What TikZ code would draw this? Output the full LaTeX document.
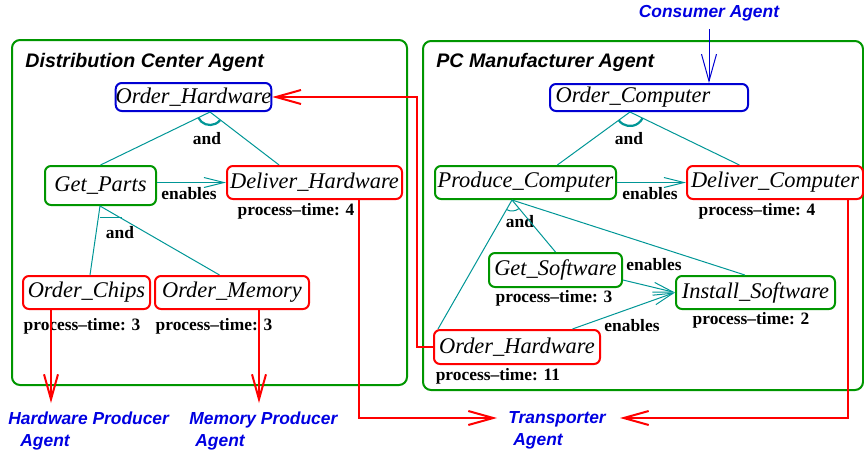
\documentclass[tikz,border=0pt]{standalone}
\usepackage{fontspec}
\setmainfont{Liberation Serif}
\setsansfont{Liberation Sans}
\usetikzlibrary{arrows.meta,calc}

\definecolor{frameGreen}{RGB}{0,150,0}
\definecolor{linkTeal}{RGB}{0,150,150}
\definecolor{goalBlue}{RGB}{0,0,210}
\definecolor{agentBlue}{RGB}{0,0,225}

\begin{document}
\begin{tikzpicture}[x=0.5pt,y=0.5pt,
		task/.style={draw,rounded corners=3pt,line width=1pt,inner sep=0pt,font=\fontsize{11.2}{13}\selectfont\itshape},
		goal/.style={task,draw=goalBlue},
		leaf/.style={task,draw=red},
		sub/.style={task,draw=frameGreen},
		note/.style={inner sep=0pt,font=\fontsize{8.7}{10}\selectfont\bfseries},
		agent/.style={inner sep=0pt,align=left,text=agentBlue,font=\fontsize{8.7}{11}\selectfont\sffamily\bfseries\itshape},
		title/.style={inner sep=0pt,font=\fontsize{9.8}{12}\selectfont\sffamily\bfseries\itshape},
		frame/.style={draw=frameGreen,line width=1pt,rounded corners=4pt},
		rel/.style={draw=linkTeal,line width=0.5pt},
		enab/.style={rel,-{Straight Barb[length=10pt,width=5pt]}},
		andarc/.style={draw=linkTeal,line width=1.1pt},
		msg/.style={draw=red,line width=1pt,-{Straight Barb[length=12.5pt,width=7pt]}},
		call/.style={draw=goalBlue,line width=0.5pt,-{Straight Barb[length=13.5pt,width=7.5pt]}}]
	\useasboundingbox (0,0) rectangle (864,-456);
	% agents
	\draw[frame] (12,-40) rectangle (407,-385);
	\draw[frame] (423,-41) rectangle (863,-390);
	\node[title,anchor=base west] (dca) at (25,-67) {Distribution Center Agent};
	\node[title,anchor=base west] (pcm) at (436,-67) {PC Manufacturer Agent};
	%
	\node[goal,minimum width=76.5pt,minimum height=14pt] (ohL) at (193.5,-97) {Order\_Hardware};
	\node[sub,minimum width=55.5pt,minimum height=19.5pt] (getparts) at (100.5,-185.5) {Get\_Parts};
	\node[leaf,minimum width=87.5pt,minimum height=16.5pt] (dh) at (314.5,-182.5) {Deliver\_Hardware};
	\node[leaf,minimum width=63.5pt,minimum height=16.5pt] (oc) at (86.5,-292.5) {Order\_Chips};
	\node[leaf,minimum width=77pt,minimum height=16.5pt] (om) at (232,-292.5) {Order\_Memory};
	%
	\node[goal,minimum width=99pt,minimum height=13.5pt] (ocomp) at (649,-97.5) {Order\_Computer\hspace*{16pt}};
	\node[sub,minimum width=90.5pt,minimum height=16.5pt] (pc) at (525.5,-182.5) {Produce\_Computer};
	\node[leaf,minimum width=88pt,minimum height=16.5pt] (dc) at (775,-182.5) {Deliver\_Computer};
	\node[sub,minimum width=66.5pt,minimum height=17pt] (gs) at (555.5,-270) {Get\_Software};
	\node[sub,minimum width=79.5pt,minimum height=16.5pt] (is) at (755.5,-292.5) {Install\_Software};
	\node[leaf,minimum width=83pt,minimum height=17pt] (ohR) at (517,-347) {Order\_Hardware};
	%
	\node[note] (andLt) at (207,-138.5) {and};
	\node[note] (enGP) at (189,-194) {enables};
	\node[note] (ptDH) at (296,-211.5) {process--time: 4};
	\node[note] (andGPt) at (120,-233) {and};
	\node[note] (ptOC) at (82,-326) {process--time: 3};
	\node[note] (ptOM) at (214,-326) {process--time: 3};
	\node[note] (andRt) at (629,-138.5) {and};
	\node[note] (enPC) at (650,-194) {enables};
	\node[note] (ptDC) at (757,-211.5) {process--time: 4};
	\node[note] (andPt) at (520,-222) {and};
	\node[note] (enGS) at (654,-265) {enables};
	\node[note] (ptGS) at (554,-298) {process--time: 3};
	\node[note] (ptIS) at (751,-320) {process--time: 2};
	\node[note] (enOH) at (632,-326) {enables};
	\node[note] (ptOH) at (498,-376) {process--time: 11};
	%
	\node[agent,anchor=base] (consumer) at (709,-17) {Consumer Agent};
	\node[agent,anchor=north west] (hwp) at (8,-411) {Hardware Producer\\\hspace*{6pt}Agent};
	\node[agent,anchor=north west] (mpp) at (189,-411) {Memory Producer\\\hspace*{3pt}Agent};
	\node[agent,anchor=north west] (trp) at (508,-411) {Transporter\\\hspace*{2.5pt}Agent};
	% and / enables links
	\coordinate (andL) at ($(ohL.south)+(16.5,0)$);
	\draw[rel] (andL) -- (getparts.north);
	\draw[rel] (andL) -- ($(dh.north west)!0.3!(dh.north east)$);
	\draw[andarc] ($(andL)+(205:13)$) arc[start angle=205,end angle=322,radius=13];
	\coordinate (andGP) at ($(getparts.south)+(-0.5,0)$);
	\draw[rel] (andGP) -- ($(oc.north)+(3.5,0)$);
	\draw[rel] (andGP) -- ($(om.north west)!0.42!(om.north east)$);
	\draw[rel] ($(andGP)+(0,-11)$) -- ++(22,0);
	\draw[enab] (getparts.east |- dh.west) -- (dh.west);
	%
	\coordinate (andR) at ($(ocomp.south)+(-19,0)$);
	\draw[rel] (andR) -- ($(pc.north west)!0.674!(pc.north east)$);
	\draw[rel] (andR) -- ($(dc.north west)!0.3!(dc.north east)$);
	\draw[andarc] ($(andR)+(216:14)$) arc[start angle=216,end angle=334,radius=14];
	\draw[enab] (pc.east) -- (dc.west);
	\coordinate (andP) at ($(pc.south)+(-13.5,0)$);
	\draw[rel] (andP) -- ($(ohR.north west)+(5,0)$);
	\draw[rel] (andP) -- (gs.north);
	\draw[rel] (andP) -- ($(is.north west)!0.434!(is.north east)$);
	\draw[andarc,line width=0.5pt] ($(andP)+(241:11)$) arc[start angle=241,end angle=308,radius=11];
	\draw[enab] ($(gs.south east)+(0,8)$) -- (is.west);
	\draw[enab] ($(ohR.north west)!0.83!(ohR.north east)$) -- (is.west);
	% messages between agents
	\draw[call] ($(consumer.south)+(0,-8)$) -- (consumer.south |- ocomp.north);
	\draw[msg] (ohR.west) -- ++(-16,0) |- (ohL.east);
	\coordinate (hwin) at ($(hwp.north west)+(43,8)$);
	\coordinate (memin) at ($(mpp.north west)+(70,8)$);
	\coordinate (trinL) at ($(trp.north west)+(-11,-7)$);
	\coordinate (trinR) at ($(trp.north west)+(112,-7)$);
	\draw[msg] (oc.south -| hwin) -- (hwin);
	\draw[msg] (om.south -| memin) -- (memin);
	\draw[msg] ($(dh.south west)!0.75!(dh.south east)$) |- (trinL);
	\draw[msg] ($(dc.south west)!0.91!(dc.south east)$) |- (trinR);
\end{tikzpicture}
\end{document}
